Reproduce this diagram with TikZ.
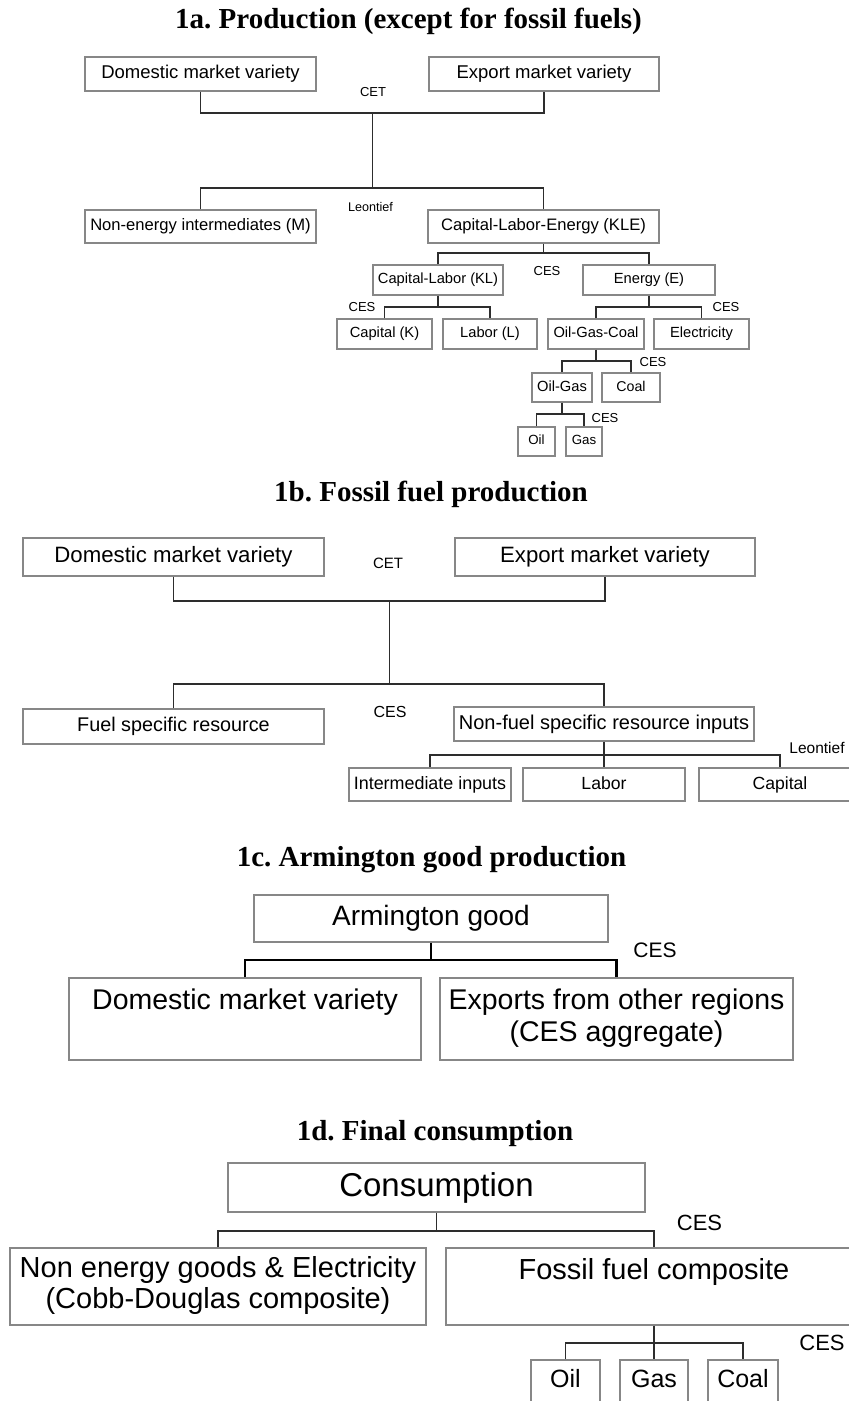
\documentclass[tikz,border=0pt]{standalone}
\usepackage{fontspec}
\setmainfont{Liberation Sans}
\newfontfamily\titlefont{Liberation Serif}
\definecolor{boxgray}{RGB}{135,135,135}
\definecolor{linegray}{RGB}{45,45,45}
\begin{document}
\frenchspacing
\begin{tikzpicture}[x=1pt,y=-1pt,
  fs/.style={font=\fontsize{#1}{#1}\selectfont},
  mbox/.style={draw=boxgray, line width=1.3pt, inner sep=0pt, text=black},
  box/.style={mbox, execute at begin node={\vphantom{(gy}}},
  lbl/.style={inner sep=0pt, text=black},
  ttl/.style={inner sep=0pt, anchor=base, font=\titlefont\bfseries\fontsize{29}{29}\selectfont},
  conn/.style={draw=linegray, line width=1.2pt},
  thickconn/.style={draw=black, line width=2.2pt}]
\useasboundingbox (0,0) rectangle (849,1401);
\clip (0,0) rectangle (849,1401);
\fill[white] (0,0) rectangle (849,1401);

% ---------- 1a ----------
\node[ttl] (t1a) at (408.5,28) {1a. Production (except for fossil fuels)};
\node[box, fs=18.5, minimum width=231, minimum height=34] (d1) at (200.5,74) {Domestic market variety};
\node[box, fs=18.5, minimum width=230, minimum height=34] (e1) at (544,74) {Export market variety};
\node[lbl, fs=13] (cet1) at (373,92) {CET};
\node[box, fs=16.6, minimum width=231, minimum height=33] (m1) at (200.5,226.5) {Non-energy intermediates (M)};
\node[box, fs=16.6, minimum width=231, minimum height=33] (kle) at (543.5,226.5) {Capital-Labor-Energy (KLE)};
\node[lbl, fs=12.6] (leo1) at (370.5,207) {Leontief};
\node[box, fs=14.7, minimum width=130, minimum height=30] (kl) at (438,280) {Capital-Labor (KL)};
\node[box, fs=14.7, minimum width=132, minimum height=30] (en) at (649,280) {Energy (E)};
\node[lbl, fs=13] (ces1) at (547,271) {CES};
\node[box, fs=14.7, minimum width=95, minimum height=30] (k) at (384.5,334) {Capital (K)};
\node[box, fs=14.7, minimum width=94, minimum height=30] (l) at (490,334) {Labor (L)};
\node[lbl, fs=13] (ces2) at (362,307) {CES};
\node[box, fs=14.7, minimum width=96, minimum height=30] (ogc) at (596,334) {Oil-Gas-Coal};
\node[box, fs=14.7, minimum width=95, minimum height=30] (el) at (701.5,334) {Electricity};
\node[lbl, fs=13] (ces3) at (726,307) {CES};
\node[box, fs=14.7, minimum width=60, minimum height=29] (og) at (562,387.5) {Oil-Gas};
\node[box, fs=14.2, minimum width=58, minimum height=29] (coal1) at (631,387.5) {Coal};
\node[lbl, fs=13] (ces4) at (653,362) {CES};
\node[box, fs=13.3, minimum width=37, minimum height=29] (oil1) at (536.5,441.5) {Oil};
\node[box, fs=13.3, minimum width=36, minimum height=29] (gas1) at (584,441.5) {Gas};
\node[lbl, fs=13] (ces5) at (605,418) {CES};

\coordinate (a1) at (372.25,113);
\coordinate (a2) at (372.25,188);
\draw[conn] (d1.south) |- (a1) -| (e1.south);
\draw[conn] (a1) -- (a2);
\draw[conn] (m1.north) |- (a2) -| (kle.north);
\coordinate (a3) at (543.5,253);
\draw[conn] (kle.south) -- (a3);
\draw[conn] (kl.north) |- (a3) -| (en.north);
\coordinate (a4) at (438,307);
\draw[conn] (kl.south) -- (a4);
\draw[conn] (k.north) |- (a4) -| (l.north);
\coordinate (a5) at (649,307);
\draw[conn] (en.south) -- (a5);
\draw[conn] (ogc.north) |- (a5) -| (el.north);
\coordinate (a6) at (596,361);
\draw[conn] (ogc.south) -- (a6);
\draw[conn] (og.north) |- (a6) -| (coal1.north);
\coordinate (a7) at (562,414);
\draw[conn] (og.south) -- (a7);
\draw[conn] (oil1.north) |- (a7) -| (gas1.north);

% ---------- 1b ----------
\node[ttl] (t1b) at (431,501) {1b. Fossil fuel production};
\node[box, fs=22.2, minimum width=301, minimum height=38] (d2) at (173.5,557) {Domestic market variety};
\node[box, fs=22.2, minimum width=300, minimum height=38] (e2) at (605,557) {Export market variety};
\node[lbl, fs=15] (cet2) at (388,563) {CET};
\node[box, fs=19.8, minimum width=301, minimum height=35] (fuel) at (173.5,726.5) {Fuel specific resource};
\node[box, fs=20, minimum width=300, minimum height=34] (nf) at (604,724) {Non-fuel specific resource inputs};
\node[lbl, fs=16] (ces6) at (390,712) {CES};
\node[box, fs=17.9, minimum width=162, minimum height=33] (int) at (430,784.5) {Intermediate inputs};
\node[box, fs=17.6, minimum width=162, minimum height=33] (lab) at (604,784.5) {Labor};
\node[box, fs=17.6, minimum width=162, minimum height=33] (cap) at (780,784.5) {Capital};
\node[lbl, fs=15.5] (leo2) at (817,748) {Leontief};

\coordinate (b1) at (389.25,601);
\coordinate (b2) at (389.25,684);
\draw[conn] (d2.south) |- (b1) -| (e2.south);
\draw[conn] (b1) -- (b2);
\draw[conn] (fuel.north) |- (b2) -| (nf.north);
\coordinate (b3) at (604,755);
\draw[conn] (nf.south) -- (lab.north);
\draw[conn] (int.north) |- (b3) -| (cap.north);

% ---------- 1c ----------
\node[ttl] (t1c) at (431.5,866) {1c. Armington good production};
\node[box, fs=28, minimum width=354, minimum height=47] (arm) at (431,918.5) {Armington good};
\node[mbox, align=center, font=\fontsize{28.5}{32}\selectfont, minimum width=352, minimum height=82] (dom3) at (245,1019) {\strut Domestic market variety\\\strut};
\node[mbox, align=center, font=\fontsize{28.5}{32}\selectfont, minimum width=353, minimum height=82] (exp3) at (616.5,1019) {\strut Exports from other regions\\\strut (CES aggregate)};
\node[lbl, fs=21] (ces7) at (655,950.5) {CES};
\coordinate (c1) at (431,960);
\draw[thickconn] (arm.south) -- (c1);
\draw[thickconn] (dom3.north) |- (c1) -| (exp3.north);

% ---------- 1d ----------
\node[ttl] (t1d) at (435,1140) {1d. Final consumption};
\node[box, fs=33, minimum width=417, minimum height=49] (cons) at (436.5,1187.5) {Consumption};
\node[mbox, align=center, font=\fontsize{29}{27}\selectfont, minimum width=416, minimum height=77] (ne) at (218,1286.5) {\strut Non energy goods \& Electricity\\\strut (Cobb-Douglas composite)};
\node[mbox, align=center, font=\fontsize{29}{27}\selectfont, minimum width=416, minimum height=77] (ff) at (654,1286.5) {\strut Fossil fuel composite\\\strut};
\node[lbl, fs=22] (ces8) at (699.5,1222.5) {CES};
\coordinate (d1c) at (436.5,1231);
\draw[conn] (cons.south) -- (d1c);
\draw[conn] (ne.north) |- (d1c) -| (ff.north);
\node[box, fs=25, minimum width=69, minimum height=42] (oil2) at (565.5,1381) {Oil};
\node[box, fs=25, minimum width=68, minimum height=42] (gas2) at (654,1381) {Gas};
\node[box, fs=25, minimum width=70, minimum height=42] (coal2) at (743,1381) {Coal};
\node[lbl, fs=22] (ces9) at (822,1342.5) {CES};
\coordinate (d2c) at (654,1343);
\draw[conn] (ff.south) -- (gas2.north);
\draw[conn] (oil2.north) |- (d2c) -| (coal2.north);
\end{tikzpicture}
\end{document}
